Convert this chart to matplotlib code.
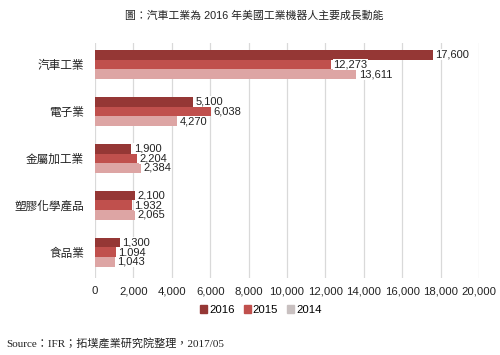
import numpy as np
import matplotlib.pyplot as plt

plt.rcParams['font.family'] = ['Liberation Sans', 'Noto Sans CJK TC', 'DejaVu Sans']

categories = ['汽車工業', '電子業', '金屬加工業', '塑膠化學產品', '食品業']
years = ['2016', '2015', '2014']
v2016 = [17600, 5100, 1900, 2100, 1300]
v2015 = [12273, 6038, 2204, 1932, 1094]
v2014 = [13611, 4270, 2384, 2065, 1043]
xticks = np.arange(0, 20001, 2000)

colors = ['#953735', '#C0504D', '#DDA5A4']
legend_colors = ['#953735', '#C0504D', '#C8C0C0']

fig = plt.figure(figsize=(5, 3.55), dpi=100)
ax = fig.add_axes([0.19, 0.217, 0.768, 0.662])

y = np.arange(len(categories))
h = 0.205
for i, (vals, c) in enumerate(zip([v2016, v2015, v2014], colors)):
    pos = y + (i - 1) * h
    ax.barh(pos, vals, height=h, color=c, zorder=2, label=years[i])
    for p, v in zip(pos, vals):
        ax.text(v + 120, p, f'{v:,}', va='center', ha='left', fontsize=8,
                color='#222222', zorder=3, clip_on=False,
                bbox=dict(facecolor='white', edgecolor='none', pad=0.3))

ax.set_ylim(4.55, -0.46)
ax.set_xlim(0, 20000)
ax.set_xticks(xticks)
ax.set_xticklabels([f'{t:,}' for t in xticks], fontsize=8.2, color='#222222')
ax.set_yticks(y)
ax.set_yticklabels(categories, fontsize=8.4, color='#222222')
ax.tick_params(length=0, pad=6)
ax.tick_params(axis='y', pad=8)
ax.grid(axis='x', color='#D9D9D9', linewidth=0.9, zorder=0)
for s in ax.spines.values():
    s.set_visible(False)

handles = [plt.Rectangle((0, 0), 1, 1, color=c) for c in legend_colors]
fig.legend(handles, years, loc='center', bbox_to_anchor=(0.522, 0.127), ncol=3,
           frameon=False, fontsize=8.2, handlelength=0.6, handleheight=0.6,
           handletextpad=0.2, columnspacing=0.8)

fig.text(0.508, 0.957, '圖：汽車工業為 2016 年美國工業機器人主要成長動能',
         ha='center', va='center', fontsize=7.8, color='#222222')
fig.text(0.012, 0.034, 'Source：IFR；拓墣產業研究院整理，2017/05', ha='left',
         va='center', fontsize=8, color='#222222',
         family=['Liberation Serif', 'Noto Sans CJK TC', 'DejaVu Sans'])

fig.savefig('out.png', dpi=100)
